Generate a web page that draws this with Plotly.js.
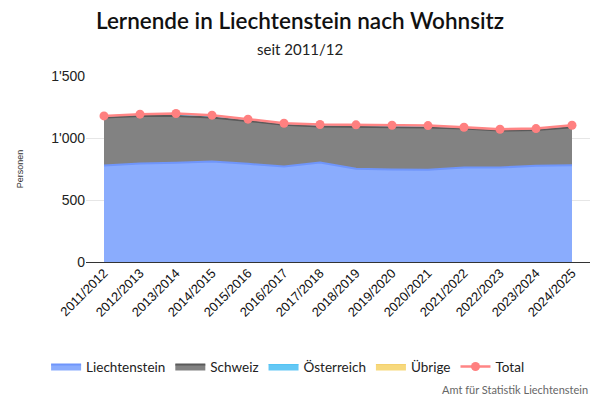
<!DOCTYPE html>
<html>
<head>
<meta charset="utf-8">
<script src="https://cdn.plot.ly/plotly-3.0.1.min.js"></script>
<style>
  html, body { margin: 0; padding: 0; background: #fff; }
  #chart { width: 600px; height: 400px; }
</style>
</head>
<body>
<div id="chart"></div>
<script>
const years = [
  "2011/2012", "2012/2013", "2013/2014", "2014/2015", "2015/2016",
  "2016/2017", "2017/2018", "2018/2019", "2019/2020", "2020/2021",
  "2021/2022", "2022/2023", "2023/2024", "2024/2025"
];

const liechtenstein = [779, 795, 800, 811, 792, 770, 803, 752, 746, 744, 762, 762, 776, 781];
const schweiz       = [386, 383, 378, 354, 346, 336, 289, 338, 344, 340, 314, 298, 289, 306];
const oesterreich   = [10, 11, 12, 12, 11, 10, 12, 11, 10, 11, 9, 9, 9, 12];
const uebrige       = [3, 3, 8, 7, 3, 3, 5, 5, 3, 5, 2, 2, 2, 4];
const total         = [1178, 1192, 1198, 1184, 1152, 1119, 1109, 1106, 1103, 1100, 1087, 1071, 1076, 1103];

const traces = [];

// stacked areas
traces.push({
  x: years, y: liechtenstein,
  name: "Liechtenstein",
  type: "scatter", mode: "lines",
  stackgroup: "one",
  fillcolor: "rgba(138,172,253,1)",
  line: { color: "#6f95fb", width: 2 }
});

traces.push({
  x: years, y: schweiz,
  name: "Schweiz",
  type: "scatter", mode: "lines",
  stackgroup: "one",
  fillcolor: "rgba(130,130,130,1)",
  line: { color: "#5a5a5a", width: 2 }
});

traces.push({
  x: years, y: oesterreich,
  name: "Österreich",
  type: "scatter", mode: "lines",
  stackgroup: "one",
  fillcolor: "rgba(100,200,245,1)",
  line: { color: "#4fc3f3", width: 1 }
});

traces.push({
  x: years, y: uebrige,
  name: "Übrige",
  type: "scatter", mode: "lines",
  stackgroup: "one",
  fillcolor: "rgba(247,217,125,1)",
  line: { color: "#f4d06a", width: 1 }
});

// Total line
traces.push({
  x: years, y: total,
  name: "Total",
  type: "scatter", mode: "lines+markers",
  line: { color: "#ff8585", width: 2.5 },
  marker: { color: "#ff8080", size: 9 }
});

const tickFont = "'Liberation Sans', Arial, sans-serif";

const layout = {
  width: 600,
  height: 400,
  paper_bgcolor: "#fff",
  plot_bgcolor: "#fff",
  separators: ".'",
  font: { family: "Lato, 'Noto Sans', sans-serif", color: "#222" },
  margin: { l: 86, r: 10, t: 76, b: 138 },
  xaxis: {
    type: "category",
    range: [-0.5, 13.5],
    tickangle: -45,
    tickfont: { family: tickFont, size: 13, color: "#111" },
    showgrid: false,
    ticks: "",
    showline: false
  },
  yaxis: {
    range: [0, 1500],
    tickvals: [0, 500, 1000, 1500],
    tickformat: ",d",
    tickfont: { family: tickFont, size: 14, color: "#222" },
    gridcolor: "#e6e6e6",
    zeroline: true,
    zerolinecolor: "#333",
    zerolinewidth: 1,
    title: {
      text: "Personen",
      font: { family: tickFont, size: 9, color: "#333" },
      standoff: 26
    }
  },
  showlegend: true,
  legend: {
    orientation: "h",
    x: 0.40, xanchor: "center",
    y: -0.48, yanchor: "top",
    font: { size: 13.5, color: "#222" },
    itemwidth: 30,
    traceorder: "normal"
  },
  annotations: [
    {
      text: "Lernende in Liechtenstein nach Wohnsitz",
      xref: "paper", yref: "paper",
      x: 0.4246, xanchor: "center",
      y: 1.30, yanchor: "middle",
      showarrow: false,
      font: { size: 22.5, color: "#111", weight: 600 }
    },
    {
      text: "seit 2011/12",
      xref: "paper", yref: "paper",
      x: 0.4246, xanchor: "center",
      y: 1.145, yanchor: "middle",
      showarrow: false,
      font: { size: 15, color: "#222" }
    },
    {
      text: "Amt für Statistik Liechtenstein",
      xref: "paper", yref: "paper",
      x: 1.0, xanchor: "right",
      y: -0.64, yanchor: "top",
      showarrow: false,
      font: { size: 11, color: "#666" }
    }
  ]
};

Plotly.newPlot("chart", traces, layout, { displayModeBar: false, staticPlot: true });
</script>
</body>
</html>
